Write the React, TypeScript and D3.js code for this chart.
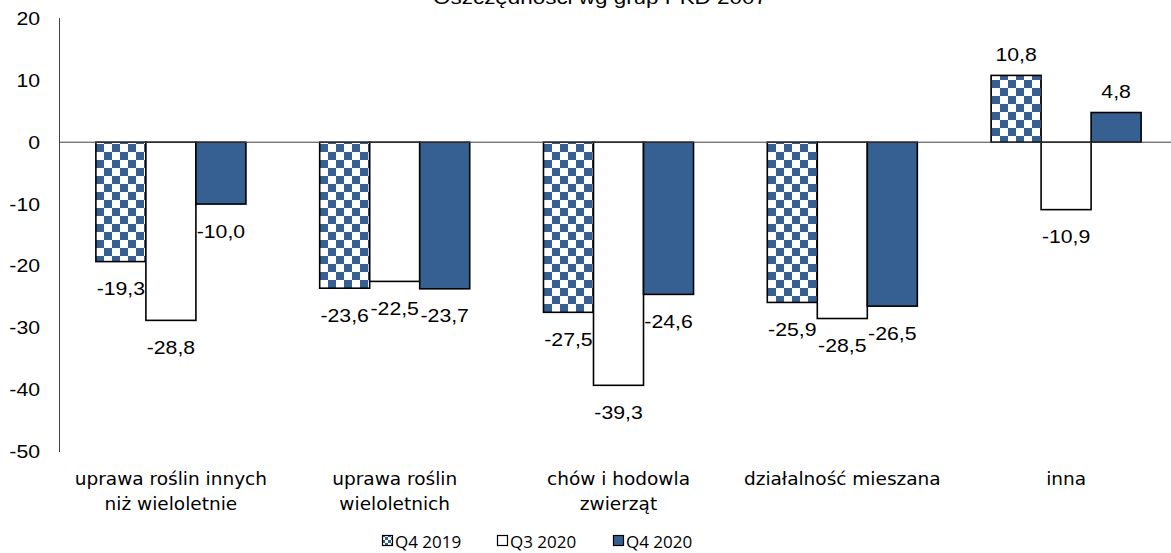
import React from "react";
import * as d3 from "d3";

const categories: string[][] = [
  ["uprawa roślin innych", "niż wieloletnie"],
  ["uprawa roślin", "wieloletnich"],
  ["chów i hodowla", "zwierząt"],
  ["działalność mieszana"],
  ["inna"],
];
const seriesNames = ["Q4 2019", "Q3 2020", "Q4 2020"];
const q42019 = [-19.3, -23.6, -27.5, -25.9, 10.8];
const q32020 = [-28.8, -22.5, -39.3, -28.5, -10.9];
const q42020 = [-10.0, -23.7, -24.6, -26.5, 4.8];
const yTicks = [20, 10, 0, -10, -20, -30, -40, -50];
const title = "Oszczędności wg grup PKD 2007";

const BLUE = "#376092";
const NUM_FONT = "'Liberation Sans', Arial, sans-serif";
const CAT_FONT = "'DejaVu Sans', Verdana, sans-serif";
const LEG_FONT = "'Open Sans', sans-serif";
const SX = 1.18;

const W = 1171;
const H = 553;

export default function App() {
  const series = [q42019, q32020, q42020];
  const fills = ["url(#checker)", "#ffffff", BLUE];
  const y = d3.scaleLinear().domain([-50, 20]).range([451.5, 18.5]);
  const x0 = d3
    .scaleBand<number>()
    .domain(d3.range(categories.length))
    .range([59, 1178])
    .paddingInner(0)
    .paddingOuter(0);
  const x1 = d3
    .scaleBand<number>()
    .domain(d3.range(seriesNames.length))
    .range([0, x0.bandwidth()])
    .paddingInner(0)
    .paddingOuter(0.7375);
  const fmt = (v: number) => v.toFixed(1).replace(".", ",");

  const legendX = [382, 497, 613];

  return (
    <svg
      width={W}
      height={H}
      style={{ position: "absolute", left: 0, top: 0, background: "#fff" }}
    >
      <defs>
        <pattern id="checker" patternUnits="userSpaceOnUse" width={16} height={16} x={0} y={0}>
          <rect width={16} height={16} fill="#fff" />
          <rect width={8} height={8} fill={BLUE} />
          <rect x={8} y={8} width={8} height={8} fill={BLUE} />
        </pattern>
        <pattern id="checkerSmall" patternUnits="userSpaceOnUse" width={6} height={6} x={0} y={0}>
          <rect width={6} height={6} fill="#fff" />
          <rect width={3} height={3} fill={BLUE} />
          <rect x={3} y={3} width={3} height={3} fill={BLUE} />
        </pattern>
      </defs>
      <rect width={W} height={H} fill="#fff" />

      {/* title */}
      <g transform={`translate(600,4) scale(${SX},1)`}>
        <text textAnchor="middle" fontFamily={NUM_FONT} fontSize={19} fill="#000">
          {title}
        </text>
      </g>

      {/* y tick labels */}
      {yTicks.map((t) => (
        <g key={t} transform={`translate(40,${y(t) + 6.5}) scale(${SX},1)`}>
          <text textAnchor="end" fontFamily={NUM_FONT} fontSize={18} fill="#000">
            {t}
          </text>
        </g>
      ))}

      {/* bars */}
      {categories.map((_, i) =>
        series.map((s, j) => {
          const v = s[i];
          const bx = (x0(i) as number) + (x1(j) as number);
          const top = Math.min(y(v), y(0));
          const h = Math.abs(y(v) - y(0));
          return (
            <rect
              key={`b${i}-${j}`}
              x={bx}
              y={top}
              width={x1.bandwidth()}
              height={h}
              fill={fills[j]}
              stroke="#000"
              strokeWidth={1.6}
            />
          );
        })
      )}

      {/* axes */}
      <line x1={59.5} x2={W} y1={y(0)} y2={y(0)} stroke="#404040" strokeWidth={1} />
      <line x1={59.5} x2={59.5} y1={18} y2={452} stroke="#404040" strokeWidth={1} />

      {/* value labels */}
      {categories.map((_, i) =>
        series.map((s, j) => {
          const v = s[i];
          const cx = (x0(i) as number) + (x1(j) as number) + x1.bandwidth() / 2;
          const ly = v < 0 ? y(v) + 27 + 6.5 : y(v) - 21 + 6.5;
          return (
            <g key={`l${i}-${j}`} transform={`translate(${cx},${ly}) scale(${SX},1)`}>
              <text textAnchor="middle" fontFamily={NUM_FONT} fontSize={18} fill="#000">
                {fmt(v)}
              </text>
            </g>
          );
        })
      )}

      {/* category labels */}
      {categories.map((lines, i) => {
        const cx = (x0(i) as number) + x0.bandwidth() / 2;
        return (
          <text
            key={`c${i}`}
            textAnchor="middle"
            fontFamily={CAT_FONT}
            fontSize={18.5}
            fill="#000"
          >
            {lines.map((ln, k) => (
              <tspan key={k} x={cx} y={485 + k * 25}>
                {ln}
              </tspan>
            ))}
          </text>
        );
      })}

      {/* legend */}
      {seriesNames.map((n, j) => (
        <g key={`lg${j}`} transform={`translate(${legendX[j]},0)`}>
          <rect
            x={0.5}
            y={535.5}
            width={10}
            height={10}
            fill={j === 0 ? "url(#checkerSmall)" : fills[j]}
            stroke="#000"
            strokeWidth={1.2}
          />
          <text x={13} y={547.5} fontFamily={LEG_FONT} fontSize={17} fill="#000">
            {n}
          </text>
        </g>
      ))}
    </svg>
  );
}
